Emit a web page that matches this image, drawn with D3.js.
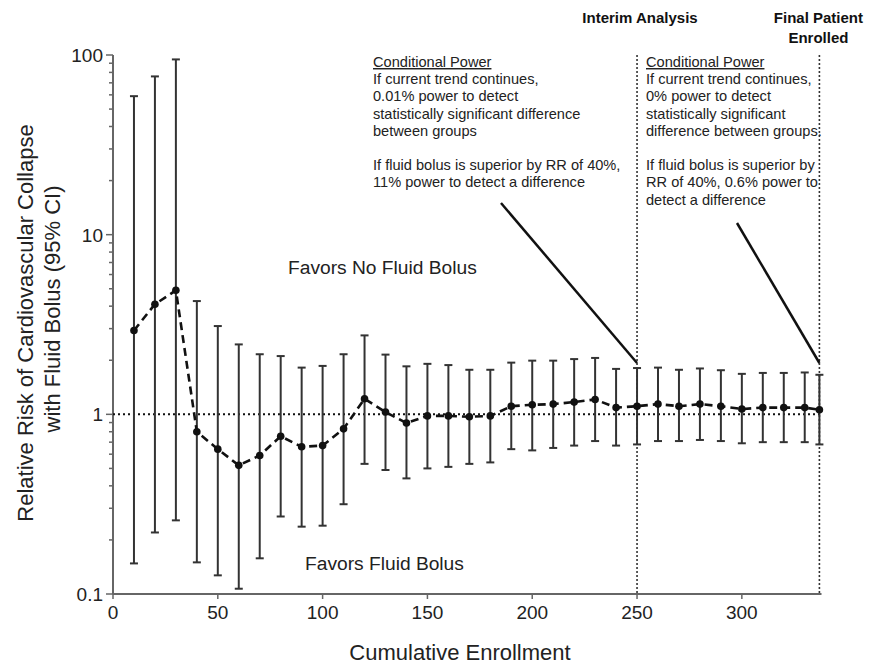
<!DOCTYPE html>
<html>
<head>
<meta charset="utf-8">
<script src="https://cdn.jsdelivr.net/npm/d3@7"></script>
<style>
  html, body { margin: 0; padding: 0; background: #fff; }
  svg { display: block; }
  .narrow { font-family: "Liberation Sans Narrow", "Arial Narrow", "Liberation Sans", Arial, sans-serif; }
  .sans { font-family: "Liberation Sans", Arial, Helvetica, sans-serif; }
</style>
</head>
<body>
<svg id="chart" width="875" height="666"></svg>
<script>
// ---- Data ----
const enrollment = [10,20,30,40,50,60,70,80,90,100,110,120,130,140,150,160,170,180,190,200,210,220,230,240,250,260,270,280,290,300,310,320,330,337];
const relativeRisk = [2.93,4.1,4.9,0.80,0.64,0.52,0.59,0.755,0.66,0.67,0.83,1.22,1.03,0.895,0.98,0.98,0.97,0.98,1.11,1.13,1.14,1.17,1.21,1.09,1.11,1.14,1.11,1.14,1.11,1.07,1.09,1.09,1.09,1.06];
const ciLower = [0.148,0.22,0.257,0.15,0.127,0.107,0.158,0.27,0.237,0.24,0.316,0.53,0.49,0.44,0.50,0.51,0.53,0.54,0.64,0.63,0.65,0.67,0.71,0.67,0.68,0.71,0.71,0.72,0.71,0.69,0.70,0.70,0.70,0.68];
const ciUpper = [59,76,94.5,4.27,3.1,2.45,2.16,2.11,1.82,1.86,2.16,2.75,2.15,1.85,1.91,1.88,1.77,1.77,1.94,1.99,1.99,2.03,2.06,1.79,1.81,1.82,1.77,1.80,1.76,1.68,1.70,1.70,1.71,1.66];
const xTicks = [0,50,100,150,200,250,300];
const yTicks = [0.1,1,10,100];
const yTickLabels = ["0.1","1","10","100"];
const milestones = [250, 337];
const milestoneLabels = [["Interim Analysis"], ["Final Patient","Enrolled"]];
const noteLeft = ["Conditional Power","If current trend continues,","0.01% power to detect","statistically significant difference","between groups","","If fluid bolus is superior by RR of 40%,","11% power to detect a difference"];
const noteRight = ["Conditional Power","If current trend continues,","0% power to detect","statistically significant","difference between groups.","","If fluid bolus is superior by","RR of 40%, 0.6% power to","detect a difference"];

// ---- Layout ----
const svg = d3.select("#chart");
const x = d3.scaleLinear().domain([0, 338]).range([113, 821.5]);
const y = d3.scaleLog().domain([0.1, 100]).range([594, 55]);

// minor ticks
const minorTicks = [];
[0.1,1,10].forEach(d => { for (let k = 2; k <= 9; k++) minorTicks.push(d*k); });

const axisColor = "#666";

// Y axis
const yAxis = svg.append("g").attr("transform", "translate(113,0)");
yAxis.append("line").attr("x1",0).attr("x2",0).attr("y1",y(100)).attr("y2",y(0.1))
  .attr("stroke",axisColor).attr("stroke-width",2);
yAxis.selectAll(".minor").data(minorTicks).join("line")
  .attr("x1",-4).attr("x2",0).attr("y1",d=>y(d)).attr("y2",d=>y(d))
  .attr("stroke",axisColor).attr("stroke-width",1.5);
yAxis.selectAll(".major").data(yTicks).join("line")
  .attr("x1",-7).attr("x2",0).attr("y1",d=>y(d)).attr("y2",d=>y(d))
  .attr("stroke",axisColor).attr("stroke-width",1.5);
yAxis.selectAll("text").data(yTicks).join("text")
  .attr("class","sans")
  .attr("x",-10).attr("y",d=>y(d)).attr("dy","0.36em")
  .attr("text-anchor","end").attr("font-size",19).attr("fill","#222")
  .text((d,i)=>yTickLabels[i]);

// X axis
const xAxis = svg.append("g").attr("transform", "translate(0,594)");
xAxis.append("line").attr("x1",x(0)).attr("x2",x(338)).attr("y1",0).attr("y2",0)
  .attr("stroke",axisColor).attr("stroke-width",2);
xAxis.selectAll(".tick").data(xTicks).join("line")
  .attr("x1",d=>x(d)).attr("x2",d=>x(d)).attr("y1",0).attr("y2",5)
  .attr("stroke",axisColor).attr("stroke-width",1.5);
xAxis.selectAll("text").data(xTicks).join("text")
  .attr("class","sans")
  .attr("x",d=>x(d)).attr("y",25)
  .attr("text-anchor","middle").attr("font-size",19).attr("fill","#222")
  .text(d=>d);

// Axis titles
svg.append("text").attr("class","sans")
  .attr("x",460).attr("y",660).attr("text-anchor","middle")
  .attr("font-size",22).attr("fill","#222").text("Cumulative Enrollment");
const yt = svg.append("text").attr("class","sans")
  .attr("transform","translate(0,323) rotate(-90)")
  .attr("text-anchor","middle").attr("font-size",22).attr("fill","#222");
yt.append("tspan").attr("x",0).attr("y",33).text("Relative Risk of Cardiovascular Collapse");
yt.append("tspan").attr("x",14).attr("y",60).text("with Fluid Bolus (95% CI)");

// Reference line at RR = 1
svg.append("line").attr("x1",x(0)).attr("x2",x(338)).attr("y1",y(1)).attr("y2",y(1))
  .attr("stroke","#111").attr("stroke-width",2).attr("stroke-dasharray","2,3");

// Milestone vertical lines
svg.selectAll(".mile").data(milestones).join("line")
  .attr("x1",d=>x(d)).attr("x2",d=>x(d)).attr("y1",55).attr("y2",594)
  .attr("stroke","#333").attr("stroke-width",1.6).attr("stroke-dasharray","2,2");

milestones.forEach((m,i) => {
  const t = svg.append("text").attr("class","narrow")
    .attr("text-anchor","middle").attr("font-weight","bold").attr("font-size",15).attr("fill","#111");
  milestoneLabels[i].forEach((s,j) => {
    t.append("tspan").attr("x", i===0 ? x(m)+3 : x(m)-1).attr("y", 23 + j*20).text(s);
  });
});

// Notes
function note(lines, x0, y0) {
  const g = svg.append("g");
  lines.forEach((s,j) => {
    if (!s) return;
    g.append("text").attr("class","narrow")
      .attr("x",x0).attr("y",y0 + j*17.2)
      .attr("font-size",14.6).attr("fill","#222")
      .attr("text-decoration", j===0 ? "underline" : null)
      .text(s);
  });
}
note(noteLeft, 373, 67);
note(noteRight, 646, 67);

// Pointer lines
svg.append("line").attr("x1",501).attr("y1",203).attr("x2",x(250)).attr("y2",363)
  .attr("stroke","#111").attr("stroke-width",2.5);
svg.append("line").attr("x1",737).attr("y1",223).attr("x2",x(337)).attr("y2",363)
  .attr("stroke","#111").attr("stroke-width",2.5);

// Region labels
svg.append("text").attr("class","sans").attr("x",288).attr("y",274)
  .attr("font-size",19.2).attr("fill","#222").text("Favors No Fluid Bolus");
svg.append("text").attr("class","sans").attr("x",305).attr("y",570)
  .attr("font-size",19.2).attr("fill","#222").text("Favors Fluid Bolus");

// Error bars
const data = enrollment.map((e,i)=>({e, rr:relativeRisk[i], lo:ciLower[i], hi:ciUpper[i]}));
const eb = svg.append("g").attr("stroke","#333").attr("stroke-width",2);
eb.selectAll(".v").data(data).join("line")
  .attr("x1",d=>x(d.e)).attr("x2",d=>x(d.e)).attr("y1",d=>y(d.lo)).attr("y2",d=>y(d.hi));
eb.selectAll(".capT").data(data).join("line")
  .attr("x1",d=>x(d.e)-4).attr("x2",d=>x(d.e)+4).attr("y1",d=>y(d.hi)).attr("y2",d=>y(d.hi));
eb.selectAll(".capB").data(data).join("line")
  .attr("x1",d=>x(d.e)-4).attr("x2",d=>x(d.e)+4).attr("y1",d=>y(d.lo)).attr("y2",d=>y(d.lo));

// Dashed line
svg.append("path").datum(data)
  .attr("fill","none").attr("stroke","#111").attr("stroke-width",2.6)
  .attr("stroke-dasharray","8,5")
  .attr("d", d3.line().x(d=>x(d.e)).y(d=>y(d.rr)));

// Points
svg.selectAll(".pt").data(data).join("circle")
  .attr("cx",d=>x(d.e)).attr("cy",d=>y(d.rr)).attr("r",3.8).attr("fill","#111");
</script>
</body>
</html>
